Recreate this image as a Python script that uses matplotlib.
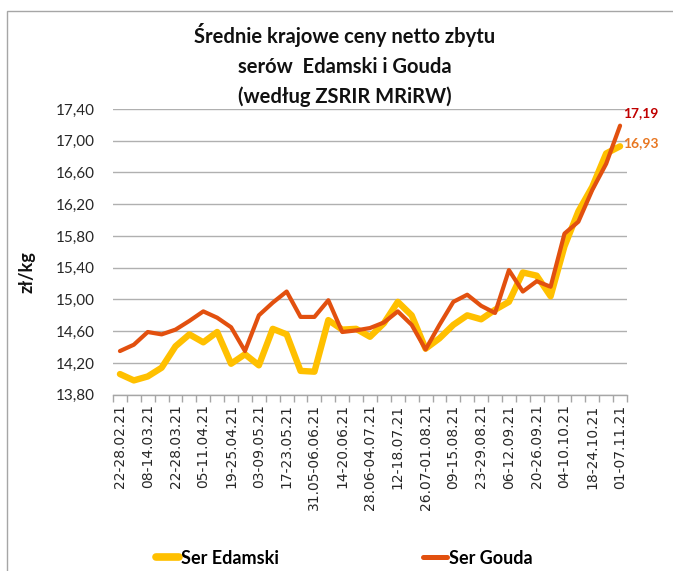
import numpy as np
import matplotlib
matplotlib.use('Agg')
import matplotlib.pyplot as plt
from matplotlib.patches import Rectangle

# labels every second week
tick_labels = ['22-28.02.21', '08-14.03.21', '22-28.03.21', '05-11.04.21', '19-25.04.21',
               '03-09.05.21', '17-23.05.21', '31.05-06.06.21', '14-20.06.21', '28.06-04.07.21',
               '12-18.07.21', '26.07-01.08.21', '09-15.08.21', '23-29.08.21', '06-12.09.21',
               '20-26.09.21', '04-10.10.21', '18-24.10.21', '01-07.11.21']

edamski = [14.06, 13.98, 14.03, 14.14, 14.41, 14.56, 14.46, 14.59, 14.19, 14.31,
           14.17, 14.63, 14.56, 14.10, 14.09, 14.74, 14.62, 14.63, 14.53, 14.70,
           14.97, 14.80, 14.38, 14.51, 14.68, 14.80, 14.75, 14.87, 14.97, 15.34,
           15.30, 15.04, 15.67, 16.11, 16.42, 16.84, 16.93]

gouda = [14.35, 14.43, 14.59, 14.56, 14.62, 14.73, 14.85, 14.77, 14.65, 14.35,
         14.80, 14.96, 15.10, 14.78, 14.78, 14.99, 14.59, 14.61, 14.64, 14.71,
         14.85, 14.68, 14.37, 14.68, 14.97, 15.06, 14.92, 14.83, 15.37, 15.10,
         15.23, 15.16, 15.83, 15.98, 16.38, 16.71, 17.19]

plt.rcParams['font.family'] = ['Lato', 'DejaVu Sans']

W, H = 673, 571
fig = plt.figure(figsize=(W / 100, H / 100), dpi=100)
ax = fig.add_axes([113 / W, 1 - 394.7 / H, 514 / W, (394.7 - 109) / H])

x = np.arange(len(edamski))
ax.plot(x, edamski, color='#FFC000', lw=4.6, solid_capstyle='round', solid_joinstyle='round',
        label='Ser Edamski', zorder=3)
ax.plot(x, gouda, color='#E2500F', lw=3.0, solid_capstyle='round', solid_joinstyle='round',
        label='Ser Gouda', zorder=4)

ax.set_xlim(-0.5, len(x) - 0.5)
ax.set_ylim(13.8, 17.4)

yt = np.arange(13.8, 17.41, 0.4)
ax.set_yticks(yt)
ax.set_yticklabels([f'{v:.2f}'.replace('.', ',') for v in yt], fontsize=11, color='#262626')
ax.tick_params(axis='y', length=0, pad=13)
ax.yaxis.grid(True, color='#b0b0b0', lw=1.0)
ax.set_axisbelow(True)

ax.set_xticks(np.arange(-0.5, len(x), 1))
ax.set_xticklabels([])
ax.tick_params(axis='x', which='major', length=5, color='#a6a6a6', width=1)
ax.set_xticks(np.arange(0, len(x), 2), minor=True)
ax.set_xticklabels(tick_labels, minor=True, rotation=90, fontsize=10, color='#262626',
                   family='DejaVu Sans')
ax.tick_params(axis='x', which='minor', length=0, pad=7)

for s in ['top', 'right', 'left']:
    ax.spines[s].set_visible(False)
ax.spines['bottom'].set_color('#a6a6a6')
ax.spines['bottom'].set_linewidth(1.0)

ax.annotate('17,19', (x[-1], gouda[-1]), xytext=(2, 9), textcoords='offset points',
            ha='left', va='center', fontsize=10, fontweight='bold', color='#C00000',
            annotation_clip=False)
ax.annotate('16,93', (x[-1], edamski[-1]), xytext=(2, 2), textcoords='offset points',
            ha='left', va='center', fontsize=10, fontweight='bold', color='#E87722',
            annotation_clip=False)

fig.text(345 / W, 1 - 65 / H, 'Średnie krajowe ceny netto zbytu\nserów  Edamski i Gouda\n(według ZSRIR MRiRW)',
         ha='center', va='center', fontsize=14.5, fontweight='bold',
         linespacing=1.6, color='#111111')

fig.text(27 / W, 1 - 272 / H, 'zł/kg', rotation=90, ha='center', va='center',
         fontsize=13, fontweight='bold', color='#111111')

leg = fig.legend(loc='center', bbox_to_anchor=(344 / W, 1 - 558 / H), ncol=2, frameon=False,
                 handlelength=1.3, handletextpad=0.1, columnspacing=8,
                 prop={'weight': 'bold', 'size': 13})
for h in leg.legend_handles:
    h.set_linewidth(h.get_linewidth() * 1.2)

fig.add_artist(Rectangle((7 / W, -0.1), 1.2, 1.1 - 11 / H, transform=fig.transFigure,
                         fill=False, edgecolor='#a6a6a6', lw=1.0))

fig.savefig('out.png', dpi=100)
